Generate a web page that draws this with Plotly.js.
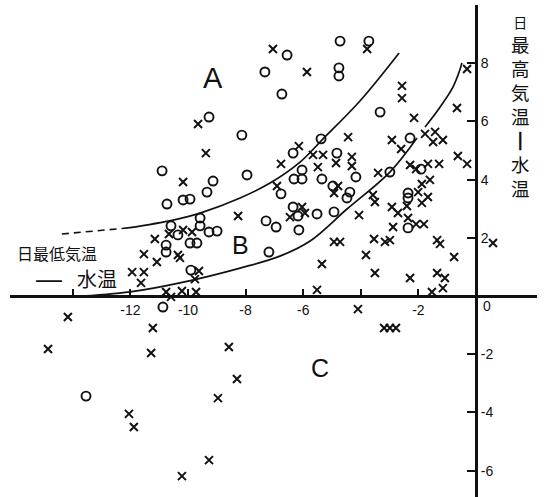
<!DOCTYPE html>
<html>
<head>
<meta charset="utf-8">
<script src="https://cdn.plot.ly/plotly-3.0.1.min.js"></script>
<style>html,body{margin:0;padding:0;background:#fff;}#chart{width:546px;height:497px;}</style>
</head>
<body>
<div id="chart"></div>
<script>
// ---- data (x: 日最低気温−水温, y: 日最高気温−水温) ----
const circX = [-4.72,-3.72,-6.56,-7.33,-4.76,-4.76,-6.74,-3.33,-9.27,-8.13,-5.38,-2.29,-6.35,-4.83,-10.90,-6.04,-7.95,-9.13,-6.32,-6.04,-5.35,-4.17,-9.34,-6.77,-4.97,-4.38,-4.48,-10.17,-9.93,-10.73,-2.99,-9.58,-7.29,-6.94,-6.35,-6.18,-5.52,-4.93,-6.15,-10.59,-10.35,-9.58,-9.27,-8.99,-9.93,-9.69,-10.76,-10.76,-7.19,-9.90,-2.36,-2.36,-2.36,-10.87,-13.54,-1.91];
const circY = [8.76,8.76,8.28,7.70,7.84,7.56,6.94,6.32,6.15,5.53,5.40,5.43,4.91,4.91,4.30,4.33,4.16,3.95,4.02,4.02,4.02,4.09,3.57,3.51,3.78,3.57,3.37,3.30,3.33,3.16,4.26,2.68,2.58,2.37,3.06,2.75,2.82,2.89,2.27,2.41,2.10,2.41,2.20,2.23,1.82,1.82,1.75,1.51,1.51,0.89,3.54,3.37,2.34,-0.38,-3.44,4.36];

const crossX = [-7.05,-3.78,-5.87,-0.31,-2.57,-2.57,-0.66,-2.15,-9.65,-4.44,-2.92,-2.60,-1.77,-1.42,-1.49,-1.15,-6.15,-9.38,-5.66,-5.31,-4.31,-0.63,-0.31,-6.77,-5.49,-4.86,-4.31,-10.17,-8.26,-6.91,-4.79,-4.93,-3.40,-2.29,-2.08,-1.67,-1.28,-1.60,-1.88,-2.01,-1.67,-1.88,-3.58,-3.51,-2.92,-2.71,-2.40,-2.36,-2.08,-1.81,-2.88,-4.06,-6.46,-6.04,-5.94,-4.93,-4.72,-3.54,-3.16,-2.99,-1.35,-1.25,-3.82,-0.76,-5.35,-3.51,-2.29,-1.35,-1.08,-1.15,-1.53,-5.52,0.59,-11.15,-11.53,-11.08,-10.35,-10.28,-11.94,-11.53,-11.63,-9.62,-9.76,-10.76,-10.59,-10.21,-9.72,-10.17,-10.66,-9.86,-14.17,-11.22,-14.86,-11.28,-8.58,-8.30,-8.96,-12.05,-11.88,-9.27,-10.21,-4.10,-3.19,-2.99,-2.78];
const crossY = [8.49,8.49,7.70,7.80,7.22,6.80,6.46,6.12,5.91,5.46,5.36,5.05,5.57,5.64,5.29,5.36,5.15,4.91,4.85,4.85,4.78,4.81,4.54,4.54,4.43,4.57,4.47,3.92,2.75,3.78,3.78,3.54,4.23,4.50,4.36,4.54,4.54,3.99,3.85,3.57,3.40,3.20,3.47,3.23,3.06,2.85,3.09,2.68,2.47,2.47,2.37,2.78,2.71,3.06,2.85,1.86,1.86,1.96,1.86,1.92,1.92,1.79,1.41,1.34,1.10,0.79,0.62,0.79,0.62,0.27,0.14,0.21,1.82,1.96,1.44,1.17,1.41,1.31,0.82,0.82,0.45,0.86,0.58,0.14,-0.03,0.17,0.14,2.27,2.13,2.20,-0.72,-1.10,-1.82,-1.96,-1.75,-2.85,-3.51,-4.05,-4.50,-5.64,-6.19,-0.45,-1.10,-1.10,-1.10];

// boundary curves A/B (upper) and B/C (lower)
const upperDashX = [-14.38,-12.08];
const upperDashY = [2.13,2.34];
const upperX = [-12.08,-10.52,-9.58,-8.19,-7.15,-6.11,-5.35,-4.03,-2.67];
const upperY = [2.34,2.61,2.85,3.37,3.88,4.60,5.36,6.70,8.35];
const lowerX = [-13.99,-12.01,-10.28,-8.19,-6.81,-5.76,-4.48,-2.99,-2.05];
const lowerY = [-0.03,0.14,0.45,0.96,1.37,1.89,2.99,4.26,5.43];
const rightX = [-1.77,-1.25,-0.80,-0.56,-0.49];
const rightY = [5.81,6.49,7.18,7.77,8.01];

// tick labels
const xTickVals = [-14,-12,-10,-8,-6,-4,-2];
const xTickText = ['','-12','-10','-8','-6','','-2'];
const yTickVals = [-6,-4,-2,2,4,6,8];
const yTickText = ['-6','-4','-2','2','4','6','8'];

// ---- figure ----
const W = 546, H = 497;
const M = {l:10, r:9, t:5, b:0};
const PW = W - M.l - M.r, PH = H - M.t - M.b;
const px = v => (v - M.l) / PW;       // pixel -> paper x
const py = v => (H - M.b - v) / PH;   // pixel -> paper y
const xRange = [-16.18, 2.118];
const yRange = [-6.907, 10.0];

const lineStyle = {color:'#111', width:1.7, shape:'spline', smoothing:1};
const traces = [
  {x:upperDashX, y:upperDashY, mode:'lines', line:{color:'#111', width:1.6, dash:'7px,5px'}, hoverinfo:'skip'},
  {x:upperX, y:upperY, mode:'lines', line:lineStyle, hoverinfo:'skip'},
  {x:lowerX, y:lowerY, mode:'lines', line:lineStyle, hoverinfo:'skip'},
  {x:rightX, y:rightY, mode:'lines', line:lineStyle, hoverinfo:'skip'},
  {x:circX, y:circY, mode:'markers', marker:{symbol:'circle-open', size:9, color:'#111', line:{width:1.9, color:'#111'}}},
  {x:crossX, y:crossY, mode:'markers', marker:{symbol:'x-thin-open', size:8, color:'#111', line:{width:2, color:'#111'}}}
];

const cjk = '"Noto Sans CJK JP", sans-serif';
const lat = '"Liberation Sans", Arial, sans-serif';
function ann(text, x, y, size, family){
  return {text:text, xref:'paper', yref:'paper', x:px(x), y:py(y), xanchor:'center', yanchor:'middle',
          showarrow:false, font:{size:size, family:family || cjk, color:'#111'}};
}

const annotations = [
  ann('A', 213, 78, 29, lat),
  ann('B', 240, 245, 25, lat),
  ann('C', 320, 368, 25, lat),
  ann('<span style="font-size:14px">日</span><br>最<br>高<br>気<br>温<br>┃<br>水<br>温', 520, 106, 18.5),
  ann('日最低気温', 57, 253, 16),
  ann('—', 49, 279, 26, lat),
  ann('水温', 97, 278, 20),
  ann('0', 487, 306, 14, lat)
];

const layout = {
  width:W, height:H, margin:M, showlegend:false,
  paper_bgcolor:'#fff', plot_bgcolor:'#fff',
  xaxis:{range:xRange, anchor:'free', position:(0 - yRange[0])/(yRange[1]-yRange[0]), side:'bottom',
         showline:true, linewidth:3, linecolor:'#111', showgrid:false, zeroline:false,
         tickmode:'array', tickvals:xTickVals, ticktext:xTickText, ticks:'inside', ticklen:6, tickwidth:2, tickcolor:'#111',
         tickfont:{size:14, family:lat, color:'#111'}},
  yaxis:{range:yRange, anchor:'free', position:(0 - xRange[0])/(xRange[1]-xRange[0]), side:'right',
         showline:true, linewidth:3, linecolor:'#111', showgrid:false, zeroline:false,
         tickmode:'array', tickvals:yTickVals, ticktext:yTickText, ticks:'inside', ticklen:8, tickwidth:2, tickcolor:'#111',
         tickfont:{size:14, family:lat, color:'#111'}},
  annotations:annotations
};

Plotly.newPlot('chart', traces, layout, {staticPlot:true, displayModeBar:false});
</script>
</body>
</html>
